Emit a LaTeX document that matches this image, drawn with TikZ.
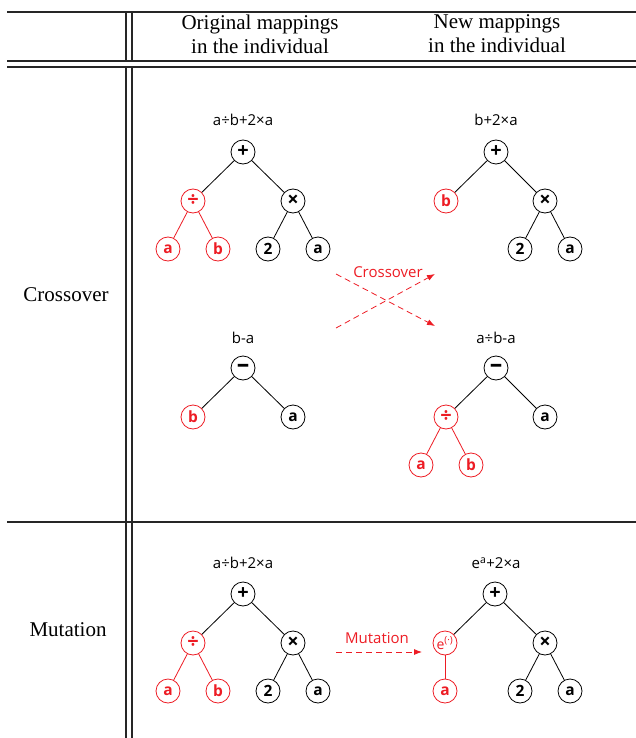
\documentclass[tikz,border=0pt]{standalone}
\usepackage{fontspec}
\setmainfont{Liberation Serif}
\newfontfamily\treefont{Open Sans}
\usetikzlibrary{arrows.meta}
\definecolor{myred}{RGB}{237,28,36}
\begin{document}
\begin{tikzpicture}[x=1pt,y=-1pt,
  tn/.style={circle,draw,line width=0.8pt,minimum size=24pt,inner sep=0pt,
    font=\treefont\bfseries\fontsize{15.5}{15.5}\selectfont},
  op/.style={font=\treefont\bfseries\fontsize{20}{20}\selectfont},
  mop/.style={font=\treefont\bfseries\fontsize{25}{25}\selectfont},
  rn/.style={tn,draw=myred,text=myred},
  ed/.style={line width=0.8pt},
  redge/.style={ed,draw=myred},
  tl/.style={font=\treefont\fontsize{15}{15}\selectfont},
  alab/.style={font=\treefont\fontsize{15}{15}\selectfont,text=myred},
  darrow/.style={draw=myred,line width=0.8pt,dash pattern=on 6pt off 4pt,
    -{Latex[length=8pt,width=6pt]}},
  tbl/.style={line width=1.1pt,draw=black!85},
  hdr/.style={align=center,font=\fontsize{21}{24}\selectfont},
  rowl/.style={font=\fontsize{21}{24}\selectfont}
]
\useasboundingbox (0,0) rectangle (636,738);
% table
\draw[tbl] (7,12) -- (636,12);
\draw[tbl] (7,61) -- (636,61);
\draw[tbl] (7,67) -- (636,67);
\draw[tbl] (7,522) -- (636,522);
\draw[tbl] (126,12) -- (126,61);
\draw[tbl] (132,12) -- (132,61);
\draw[tbl] (126,67) -- (126,738);
\draw[tbl] (132,67) -- (132,738);
% headers
\node[hdr] (h1) at (260,34) {Original mappings\\in the individual};
\node[hdr] (h2) at (497,34) {New mappings\\in the individual};
\node[rowl] (r1) at (66,295) {Crossover};
\node[rowl] (r2) at (68,630) {Mutation};

% Tree 1
\node[tl] (t1l) at (243,120) {a÷b+2×a};
\node[tn,op] (t1p) at (243,152) {+};
\node[rn,op] (t1d) at (193,201) {÷};
\node[tn,op] (t1m) at (293,201) {×};
\node[rn] (t1a) at (168,249) {a};
\node[rn] (t1b) at (218,249) {b};
\node[tn] (t12) at (268,249) {2};
\node[tn] (t1x) at (318,249) {a};
\draw[ed] (t1p) -- (t1d);
\draw[ed] (t1p) -- (t1m);
\draw[redge] (t1d) -- (t1a);
\draw[redge] (t1d) -- (t1b);
\draw[ed] (t1m) -- (t12);
\draw[ed] (t1m) -- (t1x);

% Tree 2
\node[tl] (t2l) at (496,120) {b+2×a};
\node[tn,op] (t2p) at (496,152) {+};
\node[rn] (t2b) at (446,201) {b};
\node[tn,op] (t2m) at (545,201) {×};
\node[tn] (t22) at (520,249) {2};
\node[tn] (t2x) at (570,249) {a};
\draw[ed] (t2p) -- (t2b);
\draw[ed] (t2p) -- (t2m);
\draw[ed] (t2m) -- (t22);
\draw[ed] (t2m) -- (t2x);

% Tree 3
\node[tl] (t3l) at (243,338) {b-a};
\node[tn,mop] (t3s) at (243,368) {–};
\node[rn] (t3b) at (193,417) {b};
\node[tn] (t3a) at (293,417) {a};
\draw[ed] (t3s) -- (t3b);
\draw[ed] (t3s) -- (t3a);

% Tree 4
\node[tl] (t4l) at (496,338) {a÷b-a};
\node[tn,mop] (t4s) at (496,368) {–};
\node[rn,op] (t4d) at (446,417) {÷};
\node[tn] (t4a) at (545,417) {a};
\node[rn] (t4x) at (421,465) {a};
\node[rn] (t4b) at (471,465) {b};
\draw[ed] (t4s) -- (t4d);
\draw[ed] (t4s) -- (t4a);
\draw[redge] (t4d) -- (t4x);
\draw[redge] (t4d) -- (t4b);

% Crossover arrows
\coordinate (ca1) at (336,328);
\coordinate (ca2) at (435,274);
\coordinate (cb1) at (336,274);
\coordinate (cb2) at (435,326);
\draw[darrow] (ca1) -- (ca2);
\draw[darrow] (cb1) -- (cb2);
\node[alab] (clab) at (388,272) {Crossover};

% Tree 5
\node[tl] (t5l) at (243,563) {a÷b+2×a};
\node[tn,op] (t5p) at (243,594) {+};
\node[rn,op] (t5d) at (193,643) {÷};
\node[tn,op] (t5m) at (293,643) {×};
\node[rn] (t5a) at (168,691) {a};
\node[rn] (t5b) at (218,691) {b};
\node[tn] (t52) at (268,691) {2};
\node[tn] (t5x) at (318,691) {a};
\draw[ed] (t5p) -- (t5d);
\draw[ed] (t5p) -- (t5m);
\draw[redge] (t5d) -- (t5a);
\draw[redge] (t5d) -- (t5b);
\draw[ed] (t5m) -- (t52);
\draw[ed] (t5m) -- (t5x);

% Tree 6
\node[tl] (t6l) at (496,563) {e\textsuperscript{a}+2×a};
\node[tn,op] (t6p) at (495,594) {+};
\node[rn,font=\treefont\fontsize{14}{14}\selectfont] (t6e) at (445,643) {e\textsuperscript{(·)}};
\node[tn,op] (t6m) at (545,643) {×};
\node[rn] (t6a) at (445,691) {a};
\node[tn] (t62) at (520,691) {2};
\node[tn] (t6x) at (570,691) {a};
\draw[ed] (t6p) -- (t6e);
\draw[ed] (t6p) -- (t6m);
\draw[redge] (t6e) -- (t6a);
\draw[ed] (t6m) -- (t62);
\draw[ed] (t6m) -- (t6x);

% Mutation arrow
\coordinate (ma1) at (336,652);
\coordinate (ma2) at (422,652);
\draw[darrow] (ma1) -- (ma2);
\node[alab] (mlab) at (377,638) {Mutation};
\end{tikzpicture}
\end{document}
